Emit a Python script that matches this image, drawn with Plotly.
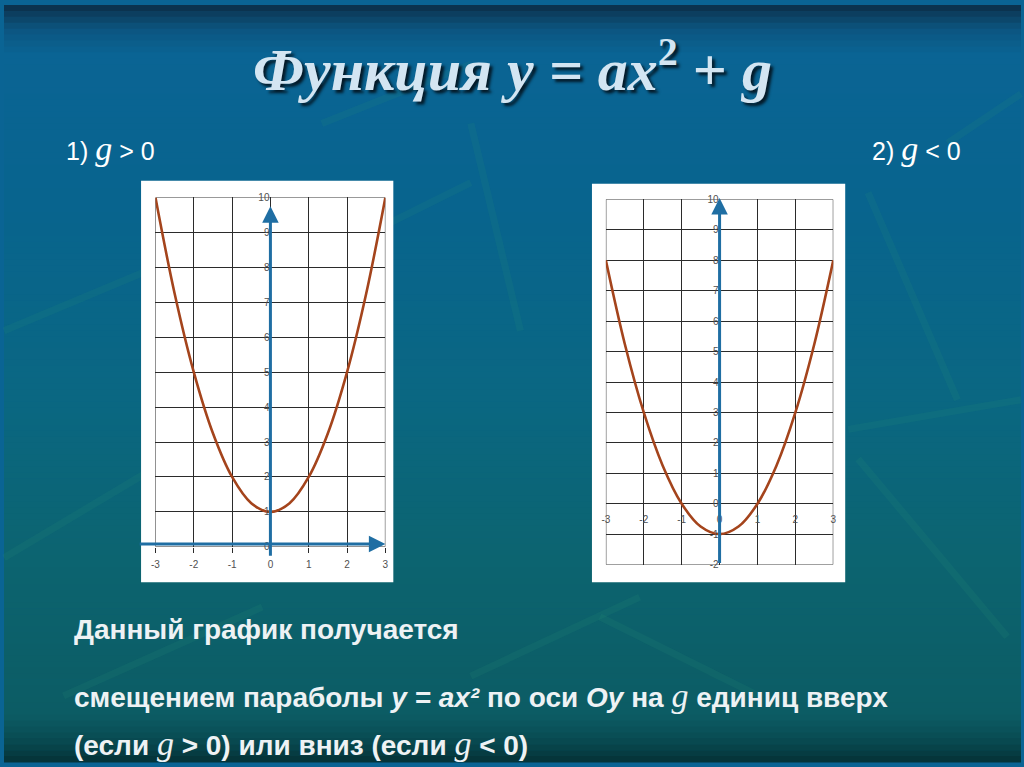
import plotly.graph_objects as go

# ---------------- data ----------------
x_vals = [-3, -2.5, -2, -1.5, -1, -0.5, 0, 0.5, 1, 1.5, 2, 2.5, 3]
y_up = [10, 7.25, 5, 3.25, 2, 1.25, 1, 1.25, 2, 3.25, 5, 7.25, 10]      # g > 0
y_down = [8, 5.25, 3, 1.25, 0, -0.75, -1, -0.75, 0, 1.25, 3, 5.25, 8]   # g < 0
x_ticks = [-3, -2, -1, 0, 1, 2, 3]
x_tick_text = ["-3", "-2", "-1", "0", "1", "2", "3"]
y_ticks_left = [0, 1, 2, 3, 4, 5, 6, 7, 8, 9, 10]
y_tick_text_left = ["0", "1", "2", "3", "4", "5", "6", "7", "8", "9", "10"]
y_ticks_right = [-2, -1, 0, 1, 2, 3, 4, 5, 6, 7, 8, 9, 10]
y_tick_text_right = ["-2", "-1", "0", "1", "2", "3", "4", "5", "6", "7", "8", "9", "10"]

title_text = ('<b><i>Функция y = ax</i><sup><span style="font-size:40px">2</span></sup> + <i>g</i></b>')
label1 = "1)"
label2 = "2)"
line1 = "Данный график получается"

W, H = 1024, 767


def px(x):
    return x / W


def py(y):
    return 1 - y / H


CURVE = "#a4441c"
AXIS = "#1f6ea3"
GRID = "#2b2b2b"
TICKFONT = dict(family="Liberation Sans, Arial, sans-serif", size=10, color="#505050")

fig = go.Figure()
fig.add_trace(go.Scatter(x=x_vals, y=y_up, mode="lines", line=dict(color=CURVE, width=2.6, shape="spline"),
                         xaxis="x", yaxis="y", showlegend=False, hoverinfo="skip"))
fig.add_trace(go.Scatter(x=x_vals, y=y_down, mode="lines", line=dict(color=CURVE, width=2.6, shape="spline"),
                         xaxis="x2", yaxis="y2", showlegend=False, hoverinfo="skip"))

shapes = []
# background gradient (horizontal strips)
stops = [(0, (10, 45, 70)), (8, (12, 60, 92)), (25, (12, 85, 128)), (50, (10, 100, 148)), (200, (8, 100, 142)),
         (400, (10, 103, 130)), (560, (12, 100, 112)), (720, (12, 92, 100)), (745, (8, 75, 82)), (767, (5, 50, 55))]
N = 128
for i in range(N):
    y0 = i * H / N
    y1 = (i + 1) * H / N + 0.6
    ym = (y0 + y1) / 2
    for (a, ca), (b, cb) in zip(stops[:-1], stops[1:]):
        if a <= ym <= b:
            t = (ym - a) / (b - a)
            c = tuple(int(round(ca[k] + (cb[k] - ca[k]) * t)) for k in range(3))
            break
    shapes.append(dict(type="rect", xref="paper", yref="paper", x0=0, x1=1, y0=py(y1), y1=py(y0),
                       fillcolor="rgb(%d,%d,%d)" % c, line=dict(width=0), layer="below"))

# faint decorative leaf strokes
leaves = [((0, 330), (190, 250)), ((0, 560), (150, 470)), ((60, 700), (260, 610)), ((320, 120), (470, 60)),
          ((470, 120), (520, 330)), ((870, 190), (960, 400)), ((850, 430), (1024, 400)), ((860, 460), (1010, 640)),
          ((600, 620), (760, 700)), ((470, 680), (640, 600)), ((950, 140), (1024, 90)), ((350, 240), (470, 180))]
for (a, b) in leaves:
    shapes.append(dict(type="line", xref="paper", yref="paper", x0=px(a[0]), y0=py(a[1]), x1=px(b[0]), y1=py(b[1]),
                       line=dict(color="rgba(40,150,120,0.14)", width=7), layer="below"))

# white panels
shapes.append(dict(type="rect", xref="paper", yref="paper", x0=px(138), x1=px(392), y0=py(585), y1=py(178),
                   fillcolor="white", line=dict(width=0), layer="below"))
shapes.append(dict(type="rect", xref="paper", yref="paper", x0=px(592), x1=px(847), y0=py(585), y1=py(181),
                   fillcolor="white", line=dict(width=0), layer="below"))
# plot frames
shapes.append(dict(type="rect", xref="x", yref="y", x0=-3, x1=3, y0=0, y1=10, line=dict(color=GRID, width=1),
                   layer="between"))
shapes.append(dict(type="rect", xref="x2", yref="y2", x0=-3, x1=3, y0=-2, y1=10, line=dict(color=GRID, width=1),
                   layer="between"))

annotations = []
# axis arrows
annotations.append(dict(x=3, y=0.08, ax=-3.45, ay=0.08, xref="x", yref="y", axref="x", ayref="y", text="",
                        showarrow=True, arrowhead=2, arrowsize=1.1, arrowwidth=3, arrowcolor=AXIS, standoff=0))
annotations.append(dict(x=0, y=9.75, ax=0, ay=-0.3, xref="x", yref="y", axref="x", ayref="y", text="",
                        showarrow=True, arrowhead=2, arrowsize=1.1, arrowwidth=3, arrowcolor=AXIS, standoff=0))
annotations.append(dict(x=3.28, y=0, ax=-3.24, ay=0, xref="x2", yref="y2", axref="x2", ayref="y2", text="",
                        showarrow=True, arrowhead=2, arrowsize=1.1, arrowwidth=3, arrowcolor=AXIS, standoff=0))
annotations.append(dict(x=0, y=10.05, ax=0, ay=-2, xref="x2", yref="y2", axref="x2", ayref="y2", text="",
                        showarrow=True, arrowhead=2, arrowsize=1.1, arrowwidth=3, arrowcolor=AXIS, standoff=0))

# title
annotations.append(dict(x=0.5, y=py(62), xref="paper", yref="paper", text=title_text, showarrow=False,
                        font=dict(family="Liberation Serif, Times New Roman, serif", size=60, color="#d3e5f2",
                                  shadow="3px 3px 3px #041a28"),
                        xanchor="center", yanchor="middle"))

SANS = "Liberation Sans, Arial, sans-serif"
GS = '<span style="font-family:Liberation Serif;font-size:34px"><i>g</i></span>'
annotations.append(dict(x=px(60), y=py(145), xref="paper", yref="paper", xanchor="left", yanchor="middle",
                        text=label1 + " " + GS + " &gt; 0", showarrow=False,
                        font=dict(family=SANS, size=25, color="white")))
annotations.append(dict(x=px(966), y=py(145), xref="paper", yref="paper", xanchor="right", yanchor="middle",
                        text=label2 + " " + GS + " &lt; 0", showarrow=False,
                        font=dict(family=SANS, size=25, color="white")))

GB = '<span style="font-family:Liberation Serif;font-size:34px;font-weight:normal"><i>g</i></span>'
TXT = dict(family=SANS, size=28, color="#eef2f4")
annotations.append(dict(x=px(68), y=py(633), xref="paper", yref="paper", xanchor="left", yanchor="middle",
                        text="<b>" + line1 + "</b>", showarrow=False, font=TXT))
annotations.append(dict(x=px(68), y=py(700), xref="paper", yref="paper", xanchor="left", yanchor="middle",
                        text="<b>смещением параболы <i>y = ax²</i> по оси <i>Oy</i> на </b>" + GB + "<b> единиц вверх</b>",
                        showarrow=False, font=TXT))
annotations.append(dict(x=px(68), y=py(748), xref="paper", yref="paper", xanchor="left", yanchor="middle",
                        text="<b>(если </b>" + GB + "<b> &gt; 0) или вниз (если </b>" + GB + "<b> &lt; 0)</b>",
                        showarrow=False, font=TXT))

fig.update_layout(
    width=W, height=H, margin=dict(l=0, r=0, t=0, b=0),
    paper_bgcolor="#0a6494", plot_bgcolor="rgba(0,0,0,0)",
    shapes=shapes, annotations=annotations, showlegend=False,
    xaxis=dict(domain=[px(152.5), px(384)], range=[-3, 3], anchor="y", tickvals=x_ticks, ticktext=x_tick_text,
               showgrid=True, gridcolor=GRID, gridwidth=1, zeroline=False, showline=False,
               ticks="outside", ticklen=5, tickcolor=GRID, tickfont=TICKFONT, ticklabelstandoff=3,
               fixedrange=True),
    yaxis=dict(domain=[py(549), py(195)], range=[0, 10], anchor="free", position=px(268.3),
               tickvals=y_ticks_left, ticktext=y_tick_text_left, showgrid=True, gridcolor=GRID, gridwidth=1,
               zeroline=False, showline=False, ticks="", tickfont=TICKFONT, ticklabelstandoff=1, fixedrange=True),
    xaxis2=dict(domain=[px(606), px(835)], range=[-3, 3], anchor="free", position=py(504), tickvals=x_ticks,
                ticktext=x_tick_text, showgrid=True, gridcolor=GRID, gridwidth=1, zeroline=False, showline=False,
                ticks="", tickfont=TICKFONT, ticklabelstandoff=10, fixedrange=True),
    yaxis2=dict(domain=[py(567), py(197)], range=[-2, 10], anchor="free", position=px(720.5),
                tickvals=y_ticks_right, ticktext=y_tick_text_right, showgrid=True, gridcolor=GRID, gridwidth=1,
                zeroline=False, showline=False, ticks="", tickfont=TICKFONT, ticklabelstandoff=1, fixedrange=True),
)

fig.write_html("out.html", config={"displayModeBar": False},
               post_script="document.body.style.margin='0';document.body.style.overflow='hidden';")
